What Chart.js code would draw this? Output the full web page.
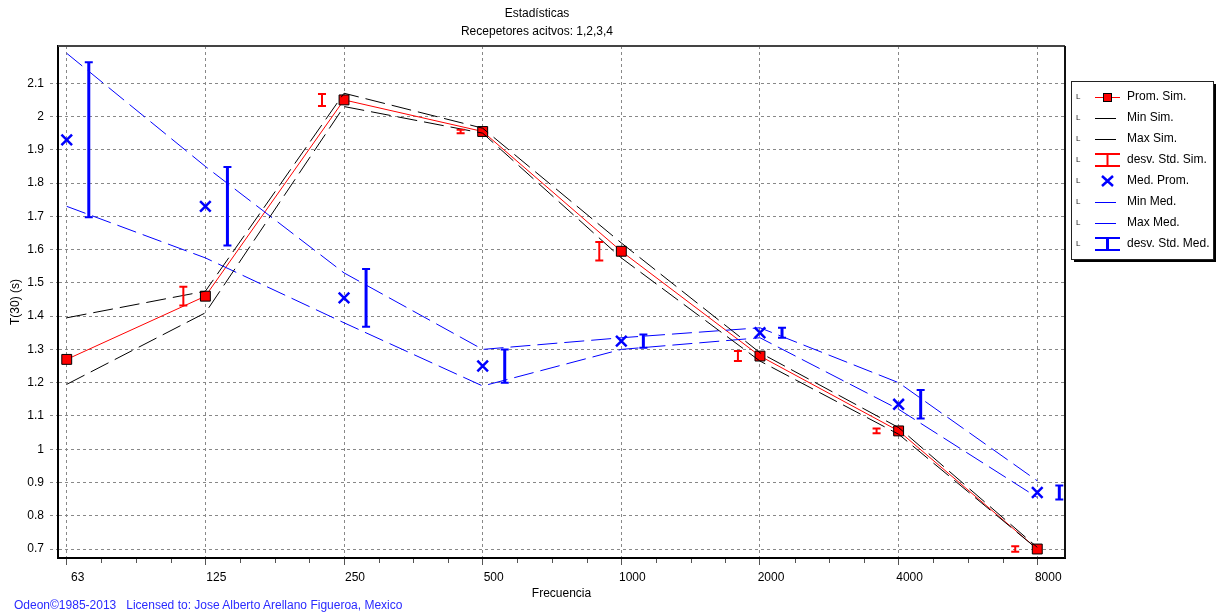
<!DOCTYPE html>
<html>
<head>
<meta charset="utf-8">
<script src="https://cdn.jsdelivr.net/npm/chart.js@4.4.1/dist/chart.umd.min.js"></script>
<style>
  body { margin: 0; background: #fff; font-family: "Liberation Sans", Arial, sans-serif; }
  #wrap { position: relative; width: 1218px; height: 613px; }
  .txt { position: absolute; font-size: 12px; color: #000; white-space: pre; line-height: 14px; }
  .mid { transform: translateX(-50%); }
</style>
</head>
<body>
<div id="wrap">
  <canvas id="chartEstadisticas" width="1218" height="613"></canvas>
  <div class="txt mid" style="left:537px; top:6px;">Estadísticas</div>
  <div class="txt mid" style="left:537px; top:24px;">Recepetores acitvos: 1,2,3,4</div>
  <div class="txt" style="left:14px; top:598px; color:#2a2aff;">Odeon©1985-2013   Licensed to: Jose Alberto Arellano Figueroa, Mexico</div>
</div>
<script>
// Frecuencias (bandas de octava)
const freqLabels = ['63', '125', '250', '500', '1000', '2000', '4000', '8000'];
const yTicks = [0.7, 0.8, 0.9, 1.0, 1.1, 1.2, 1.3, 1.4, 1.5, 1.6, 1.7, 1.8, 1.9, 2.0, 2.1];

// Simulación
const promSim = [1.27, 1.46, 2.05, 1.955, 1.595, 1.28, 1.055, 0.70];
const minSim = [1.195, 1.41, 2.03, 1.95, 1.575, 1.265, 1.045, 0.70];
const maxSim = [1.395, 1.475, 2.07, 1.965, 1.62, 1.29, 1.065, 0.705];
const stdSim = [0.03, 0.028, 0.018, 0.005, 0.028, 0.015, 0.007, 0.008];

// Medición
const medProm = [1.93, 1.73, 1.455, 1.25, 1.325, 1.35, 1.135, 0.87];
const minMed = [1.73, 1.575, 1.38, 1.19, 1.30, 1.335, 1.12, 0.855];
const maxMed = [2.19, 1.85, 1.53, 1.30, 1.335, 1.365, 1.20, 0.905];
const stdMed = [0.233, 0.118, 0.087, 0.05, 0.02, 0.015, 0.043, 0.021];

const FONT = { family: '"Liberation Sans", Arial, sans-serif', size: 12 };
const toPoints = arr => arr.map((v, i) => ({ x: i, y: v }));

// dibuja las barras de desviación estándar (desplazadas a un lado de cada banda)
function drawErrorBars(ctx, x, y, means, stds, shift, color, width) {
  ctx.strokeStyle = color;
  means.forEach((m, i) => {
    const px = x.getPixelForValue(i + shift);
    const top = y.getPixelForValue(m + stds[i]);
    const bot = y.getPixelForValue(m - stds[i]);
    ctx.lineWidth = width;
    ctx.beginPath();
    ctx.moveTo(px, top);
    ctx.lineTo(px, bot);
    ctx.stroke();
    ctx.lineWidth = 2;
    ctx.beginPath();
    ctx.moveTo(px - 4, top); ctx.lineTo(px + 4, top);
    ctx.moveTo(px - 4, bot); ctx.lineTo(px + 4, bot);
    ctx.stroke();
  });
}

const errorBars = {
  id: 'errorBars',
  afterDatasetsDraw(chart) {
    const { ctx, chartArea, scales: { x, y } } = chart;
    ctx.save();
    ctx.beginPath();
    ctx.rect(chartArea.left, chartArea.top, chartArea.right - chartArea.left, chartArea.bottom - chartArea.top);
    ctx.clip();
    drawErrorBars(ctx, x, y, promSim, stdSim, -0.159, '#ff0000', 2);
    drawErrorBars(ctx, x, y, medProm, stdMed, 0.159, '#0000ff', 3);
    ctx.restore();
  }
};

// marco superior / derecho y marcas menores del eje x
const frame = {
  id: 'frame',
  afterDraw(chart) {
    const { ctx, chartArea: a, scales: { x } } = chart;
    ctx.save();
    ctx.strokeStyle = '#444';
    ctx.lineWidth = 2;
    ctx.beginPath();
    ctx.moveTo(a.left, a.top); ctx.lineTo(a.right, a.top);
    ctx.stroke();
    ctx.strokeStyle = '#111';
    ctx.beginPath();
    ctx.moveTo(a.right, a.top); ctx.lineTo(a.right, a.bottom);
    ctx.stroke();
    ctx.strokeStyle = '#555';
    ctx.lineWidth = 1;
    for (let i = 0; i < freqLabels.length; i++) {
      [0.25, 0.5, 0.75].forEach(f => {
        const px = x.getPixelForValue(i + f);
        if (px < a.right) {
          ctx.beginPath();
          ctx.moveTo(Math.round(px) + 0.5, a.bottom + 1);
          ctx.lineTo(Math.round(px) + 0.5, a.bottom + 5);
          ctx.stroke();
        }
      });
    }
    ctx.restore();
  }
};

// leyenda con recuadro y sombra
const legendRows = [
  { text: 'Prom. Sim.', kind: 'lineRect', color: '#ff0000' },
  { text: 'Min Sim.', kind: 'line', color: '#000' },
  { text: 'Max Sim.', kind: 'line', color: '#000' },
  { text: 'desv. Std. Sim.', kind: 'ibeam', color: '#ff0000', width: 2 },
  { text: 'Med. Prom.', kind: 'cross', color: '#0000ff' },
  { text: 'Min Med.', kind: 'line', color: '#0000ff' },
  { text: 'Max Med.', kind: 'line', color: '#0000ff' },
  { text: 'desv. Std. Med.', kind: 'ibeam', color: '#0000ff', width: 3 }
];

const boxLegend = {
  id: 'boxLegend',
  afterDraw(chart) {
    const ctx = chart.ctx;
    const bx = 1071, by = 81, bw = 142, bh = 178;
    ctx.save();
    ctx.fillStyle = '#000';
    ctx.fillRect(bx + 3, by + 3, bw, bh);
    ctx.fillStyle = '#fff';
    ctx.fillRect(bx, by, bw, bh);
    ctx.strokeStyle = '#222';
    ctx.lineWidth = 1;
    ctx.strokeRect(bx + 0.5, by + 0.5, bw, bh);
    legendRows.forEach((row, i) => {
      const cy = by + 16 + i * 21;
      ctx.fillStyle = '#222';
      ctx.font = '8px "Liberation Sans", Arial, sans-serif';
      ctx.textBaseline = 'middle';
      ctx.fillText('L', 1076, cy);
      ctx.strokeStyle = row.color;
      ctx.fillStyle = row.color;
      if (row.kind === 'lineRect' || row.kind === 'line') {
        ctx.lineWidth = 1;
        ctx.beginPath();
        ctx.moveTo(1095, cy + 0.5);
        ctx.lineTo(row.kind === 'lineRect' ? 1120 : 1116, cy + 0.5);
        ctx.stroke();
        if (row.kind === 'lineRect') {
          ctx.fillRect(1103.5, cy - 4, 8, 8);
          ctx.strokeStyle = '#000';
          ctx.strokeRect(1103.5, cy - 3.5, 8, 8);
        }
      } else if (row.kind === 'ibeam') {
        ctx.lineWidth = 2;
        ctx.beginPath();
        ctx.moveTo(1095, cy - 6); ctx.lineTo(1120, cy - 6);
        ctx.moveTo(1095, cy + 6); ctx.lineTo(1120, cy + 6);
        ctx.stroke();
        ctx.lineWidth = row.width;
        ctx.beginPath();
        ctx.moveTo(1107.5, cy - 6); ctx.lineTo(1107.5, cy + 6);
        ctx.stroke();
      } else if (row.kind === 'cross') {
        ctx.lineWidth = 2.5;
        ctx.beginPath();
        ctx.moveTo(1102, cy - 5); ctx.lineTo(1113, cy + 5);
        ctx.moveTo(1113, cy - 5); ctx.lineTo(1102, cy + 5);
        ctx.stroke();
      }
      ctx.fillStyle = '#000';
      ctx.font = '12px "Liberation Sans", Arial, sans-serif';
      ctx.fillText(row.text, 1127, cy);
    });
    ctx.restore();
  }
};

const dashed = [20, 7];

new Chart(document.getElementById('chartEstadisticas'), {
  type: 'line',
  data: {
    datasets: [
      { label: 'Min Sim.', data: toPoints(minSim), borderColor: '#000', borderWidth: 1, borderDash: dashed, pointRadius: 0 },
      { label: 'Max Sim.', data: toPoints(maxSim), borderColor: '#000', borderWidth: 1, borderDash: dashed, pointRadius: 0 },
      { label: 'Min Med.', data: toPoints(minMed), borderColor: '#0000ff', borderWidth: 1, borderDash: dashed, pointRadius: 0 },
      { label: 'Max Med.', data: toPoints(maxMed), borderColor: '#0000ff', borderWidth: 1, borderDash: dashed, pointRadius: 0 },
      {
        label: 'Prom. Sim.', data: toPoints(promSim), borderColor: '#ff0000', borderWidth: 1,
        pointStyle: 'rect', pointRadius: 7, pointBackgroundColor: '#ff0000', pointBorderColor: '#000', pointBorderWidth: 1
      },
      {
        label: 'Med. Prom.', data: toPoints(medProm), showLine: false,
        pointStyle: 'crossRot', pointRadius: 7.5, pointBorderColor: '#0000ff', pointBorderWidth: 2.5
      }
    ]
  },
  options: {
    responsive: false,
    animation: false,
    devicePixelRatio: 1,
    layout: { padding: { top: 46, right: 153, bottom: 0, left: 0 } },
    plugins: {
      legend: { display: false },
      tooltip: { enabled: false }
    },
    scales: {
      x: {
        type: 'linear',
        min: -0.063,
        max: 7.2,
        afterBuildTicks: s => { s.ticks = freqLabels.map((_, i) => ({ value: i })); },
        afterFit: s => { s.height = 55; },
        ticks: {
          callback: v => freqLabels[v],
          font: FONT, color: '#000', padding: 5, labelOffset: 11, maxRotation: 0, autoSkip: false
        },
        grid: { color: '#888', lineWidth: 1, tickColor: '#555', tickLength: 7 },
        border: { color: '#000', width: 2, dash: [3, 3] },
        title: { display: true, text: 'Frecuencia', font: FONT, color: '#000', padding: { top: 0, bottom: 12 } }
      },
      y: {
        min: 0.673,
        max: 2.212,
        afterBuildTicks: s => { s.ticks = yTicks.map(v => ({ value: v })); },
        afterFit: s => { s.width = 58; },
        ticks: {
          callback: v => String(Math.round(v * 10) / 10),
          font: FONT, color: '#000', padding: 6
        },
        grid: { color: '#888', lineWidth: 1, tickColor: '#888', tickLength: 8, tickBorderDash: [3, 3] },
        border: { color: '#000', width: 2, dash: [3, 3] },
        title: { display: true, text: 'T(30) (s)', font: FONT, color: '#000', padding: { top: 8, bottom: 0 } }
      }
    }
  },
  plugins: [errorBars, frame, boxLegend]
});
</script>
</body>
</html>
